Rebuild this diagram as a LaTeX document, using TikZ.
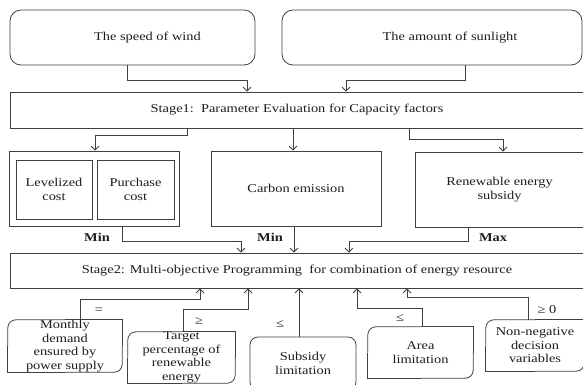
\documentclass[tikz,border=0pt]{standalone}
\usepackage{fontspec}
\setmainfont{Liberation Serif}[FakeStretch=1.2]
\usetikzlibrary{arrows.meta}

\definecolor{linec}{RGB}{64,64,64}
\definecolor{txtc}{RGB}{30,30,30}
\newcommand{\boxfont}{\fontsize{12pt}{13.5pt}\selectfont}

\tikzset{
  box/.style={draw=linec, line width=0.8pt, align=center},
  rbox/.style={box, rounded corners=11pt},
  dbox/.style={align=center},
  frame/.style={draw=linec, line width=0.8pt},
  sz/.style 2 args={minimum width=#1, minimum height=#2},
  arr/.style={draw=linec, line width=0.8pt, -{Straight Barb[length=4pt,width=8pt]}},
  tag/.style={font=\boxfont\bfseries}
}

% frame with top-left and bottom-right corners rounded
\newcommand{\diagframe}[1]{%
  \draw[frame, rounded corners=8pt] (#1.north) -- (#1.north west) -- (#1.west);
  \draw[frame] (#1.west) -- (#1.south west) -- (#1.south);
  \draw[frame, rounded corners=8pt] (#1.south) -- (#1.south east) -- (#1.east);
  \draw[frame] (#1.east) -- (#1.north east) -- (#1.north);}

\begin{document}
\begin{tikzpicture}[x=1pt,y=-1pt]
\tikzstyle{every node}+=[inner sep=0pt, font=\boxfont, text=txtc]
\fill[white] (0,0) rectangle (583,384);
\useasboundingbox (0,0) rectangle (583,384);
% inputs
\node[rbox, sz={245pt}{55pt}, label={[xshift=15pt]center:The speed of wind}] (wind) at (132.5,37.5) {};
\node[rbox, sz={300pt}{55pt}, label={[xshift=18pt]center:The amount of sunlight}] (sun) at (432,37.5) {};
\node[box, sz={574pt}{36pt}] (stageone) at (297,110) {Stage1:\ \ Parameter Evaluation for Capacity factors};
% objectives
\node[box, sz={170pt}{75pt}] (costgrp) at (94,188.5) {};
\node[box, line width=1pt, sz={76pt}{59pt}] (lev) at (54,189.5) {Levelized\\cost};
\node[box, line width=1pt, sz={77pt}{59pt}] (pur) at (135.5,189.5) {Purchase\\cost};
\node[box, sz={170pt}{75pt}] (carbon) at (296,188.5) {Carbon emission};
\node[box, sz={169pt}{75pt}] (renew) at (499.5,189.5) {Renewable energy\\subsidy};
\node[tag] (mincost) at (97,237) {Min};
\node[tag] (mincarb) at (270,237) {Min};
\node[tag] (maxsub) at (493,238) {Max};
\node[box, sz={574pt}{35pt}] (stagetwo) at (297,270.5) {Stage2: Multi-objective Programming\ \ for combination of energy resource};
% constraints
\node[dbox, sz={114pt}{52pt}] (monthly) at (65,346) {Monthly\\demand\\ensured by\\power supply};
\node[dbox, sz={107pt}{48pt}] (target) at (181.5,357.5) {Target\\percentage of\\renewable\\energy};
\node[rbox, rounded corners=8pt, sz={106pt}{53pt}] (subsidy) at (303,363.5) {Subsidy\\limitation};
\node[dbox, sz={105pt}{51pt}] (area) at (420.5,352.5) {Area\\limitation};
\node[dbox, sz={98pt}{51pt}] (nonneg) at (535,345.5) {Non-negative\\decision\\variables};
\foreach \n in {monthly,target,area,nonneg} {\diagframe{\n}}
\node (eqdem) at (99,311) {=};
\node (getar) at (199,321) {≥};
\node (lesub) at (280,324) {≤};
\node (learea) at (400,318) {≤};
\node (genon) at (547,310) {≥ 0};
% connectors
\draw[arr] ([xshift=-5.5pt]wind.south) -- ++(0,15) -| ([xshift=-50pt]stageone.north);
\draw[arr] ([xshift=33pt]sun.south) -- ++(0,15) -| ([xshift=49pt]stageone.north);
\draw[arr] ([xshift=-110pt]stageone.south) -- ++(0,7) -| ([xshift=1pt]costgrp.north);
\draw[arr] ([xshift=-3pt]carbon.north |- stageone.south) -- ([xshift=-3pt]carbon.north);
\draw[arr] ([xshift=112pt]stageone.south) -- ++(0,11) -| ([xshift=3.5pt]renew.north);
\draw[arr] ([xshift=28pt]costgrp.south) -- ++(0,15) -| ([xshift=-56pt]stagetwo.north);
\draw[arr] ([xshift=-2pt]carbon.south) -- ([xshift=-2pt]carbon.south |- stagetwo.north);
\draw[arr] ([xshift=-31.5pt]renew.south) -- ++(0,14) -| ([xshift=52pt]stagetwo.north);
\draw[arr] ([xshift=15pt]monthly.north) -- ++(0,-20) -| ([xshift=-97pt]stagetwo.south);
\draw[arr] ([xshift=1.5pt]target.north) -- ++(0,-22) -| ([xshift=-49pt]stagetwo.south);
\draw[arr] ([xshift=-4pt]subsidy.north) -- ([xshift=-4pt]subsidy.north |- stagetwo.south);
\draw[arr] ([xshift=1.5pt]area.north) -- ++(0,-18) -| ([xshift=60pt]stagetwo.south);
\draw[arr] ([xshift=-7pt]nonneg.north) -- ++(0,-22) -| ([xshift=110pt]stagetwo.south);
\end{tikzpicture}
\end{document}
